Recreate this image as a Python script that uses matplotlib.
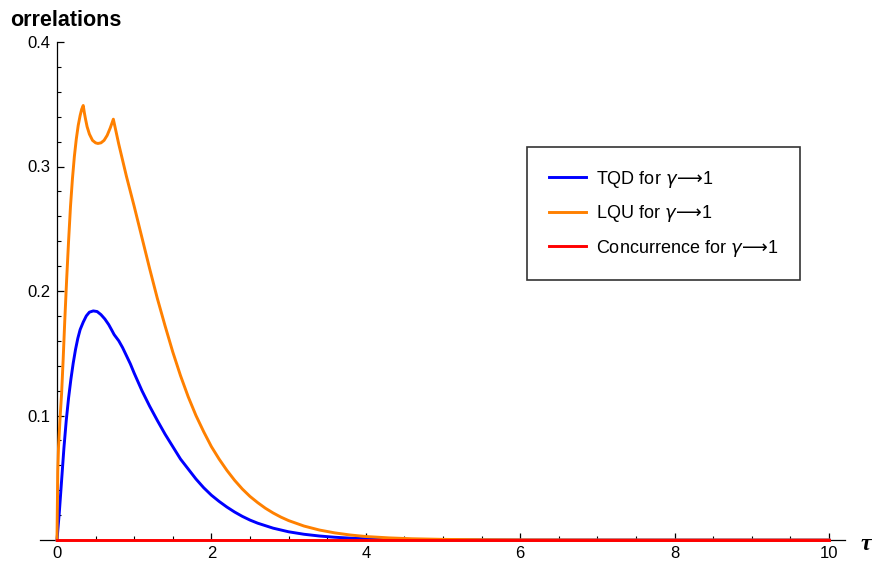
import numpy as np
import matplotlib.pyplot as plt
from matplotlib.ticker import FixedLocator

# values
tau_lqu = [0, 0.01, 0.02, 0.04, 0.06, 0.08, 0.10, 0.125, 0.15, 0.175, 0.20, 0.225, 0.25, 0.275,
           0.30, 0.32, 0.34, 0.355, 0.37, 0.39, 0.42, 0.46, 0.50, 0.53, 0.57, 0.61, 0.65, 0.69,
           0.73, 0.80, 0.90, 1.0, 1.1, 1.2, 1.3, 1.4, 1.5, 1.6, 1.7, 1.8, 1.9, 2.0, 2.1, 2.2,
           2.3, 2.4, 2.5, 2.6, 2.7, 2.8, 2.9, 3.0, 3.2, 3.4, 3.6, 3.8, 4.0, 4.3, 4.6, 5.0, 5.5,
           6.0, 7.0, 8.0, 10.0]
lqu = [0, 0.055, 0.075, 0.098, 0.118, 0.145, 0.175, 0.209, 0.24, 0.268, 0.29, 0.308, 0.322, 0.333,
       0.341, 0.346, 0.349, 0.343, 0.338, 0.332, 0.326, 0.321, 0.319, 0.3185, 0.319, 0.321, 0.325, 0.331,
       0.338, 0.318, 0.292, 0.268, 0.243, 0.218, 0.194, 0.172, 0.151, 0.132, 0.115, 0.100, 0.087, 0.075,
       0.065, 0.056, 0.048, 0.041, 0.035, 0.030, 0.0255, 0.0217, 0.0184, 0.0156, 0.0112, 0.0080, 0.0057,
       0.0040, 0.0028, 0.0017, 0.0010, 0.0005, 0.00022, 0.0001, 0.00002, 0.0, 0.0]

tau_tqd = [0, 0.03, 0.06, 0.09, 0.12, 0.15, 0.18, 0.21, 0.24, 0.27, 0.30, 0.34, 0.38, 0.42, 0.47,
           0.52, 0.57, 0.62, 0.67, 0.71, 0.74, 0.77, 0.80, 0.85, 0.90, 0.95, 1.0, 1.1, 1.2, 1.3,
           1.4, 1.5, 1.6, 1.7, 1.8, 1.9, 2.0, 2.1, 2.2, 2.3, 2.4, 2.5, 2.6, 2.8, 3.0, 3.2, 3.4,
           3.6, 3.8, 4.0, 4.5, 5.0, 6.0, 10.0]
tqd = [0, 0.022, 0.048, 0.074, 0.096, 0.114, 0.129, 0.142, 0.153, 0.162, 0.169, 0.175, 0.180, 0.183,
       0.184, 0.1835, 0.181, 0.1775, 0.173, 0.1685, 0.165, 0.1625, 0.160, 0.1545, 0.148, 0.1415, 0.134,
       0.120, 0.1075, 0.096, 0.085, 0.075, 0.065, 0.057, 0.049, 0.042, 0.036, 0.031, 0.0265, 0.0225,
       0.019, 0.016, 0.0135, 0.0095, 0.0066, 0.0046, 0.0032, 0.0022, 0.0015, 0.001, 0.0004, 0.00015,
       0.00002, 0.0]

tau_conc = [0, 10]
conc = [0, 0]

labels = [r"TQD for $\gamma\!{\longrightarrow}\!$1", r"LQU for $\gamma\!{\longrightarrow}\!$1",
          r"Concurrence for $\gamma\!{\longrightarrow}\!$1"]

plt.rcParams['font.family'] = ['Liberation Sans', 'DejaVu Sans']
plt.rcParams['mathtext.fontset'] = 'dejavusans'

fig = plt.figure(figsize=(8.72, 5.62), dpi=100)
ax = fig.add_axes([40 / 872, 22 / 562, 805 / 872, 498 / 562])

ax.plot(tau_tqd, tqd, color='#0000ff', lw=2.1, label=labels[0], clip_on=False, zorder=3)
ax.plot(tau_lqu, lqu, color='#ff8000', lw=2.1, label=labels[1], clip_on=False, zorder=3)
ax.plot(tau_conc, conc, color='#ff0000', lw=2.1, label=labels[2], clip_on=False, zorder=4)

ax.set_xlim(-0.22, 10.207)
ax.set_ylim(0, 0.4)

for s in ['top', 'right']:
    ax.spines[s].set_visible(False)
ax.spines['left'].set_position(('data', 0))
ax.spines['left'].set_bounds(0, 0.4)
ax.spines['bottom'].set_position(('data', 0))
for s in ['left', 'bottom']:
    ax.spines[s].set_linewidth(0.9)

ax.set_xticks([0, 2, 4, 6, 8, 10])
ax.xaxis.set_minor_locator(FixedLocator([v for v in np.arange(0.5, 10, 0.5) if v % 2 != 0]))
ax.set_yticks([0.1, 0.2, 0.3, 0.4])
ax.set_yticklabels(['0.1', '0.2', '0.3', '0.4'])
ax.yaxis.set_minor_locator(FixedLocator([v for v in np.arange(0.02, 0.4, 0.02) if round(v * 100) % 10 != 0]))
ax.tick_params(axis='both', which='major', direction='in', length=5, width=0.9, labelsize=12)
ax.tick_params(axis='both', which='minor', direction='in', length=3, width=0.8)
ax.tick_params(axis='x', pad=4)
ax.tick_params(axis='y', pad=5)

fig.text(10 / 872, 1 - 26 / 562, 'orrelations', fontsize=15.5, fontweight='bold', va='baseline', ha='left')
fig.text(866 / 872, 1 - 545 / 562, '\u03c4', fontsize=17, fontweight='bold', fontstyle='italic',
         family='Liberation Serif', va='center', ha='center')

leg = ax.legend(loc='upper left', bbox_to_anchor=(527 / 872, 1 - 147 / 562), bbox_transform=fig.transFigure,
                borderaxespad=0, fontsize=13, frameon=True, fancybox=False, edgecolor='black',
                borderpad=1.2, handlelength=2.05, handletextpad=0.55, labelspacing=0.75)
leg.get_frame().set_linewidth(1.2)

fig.savefig('out.png', dpi=100)
